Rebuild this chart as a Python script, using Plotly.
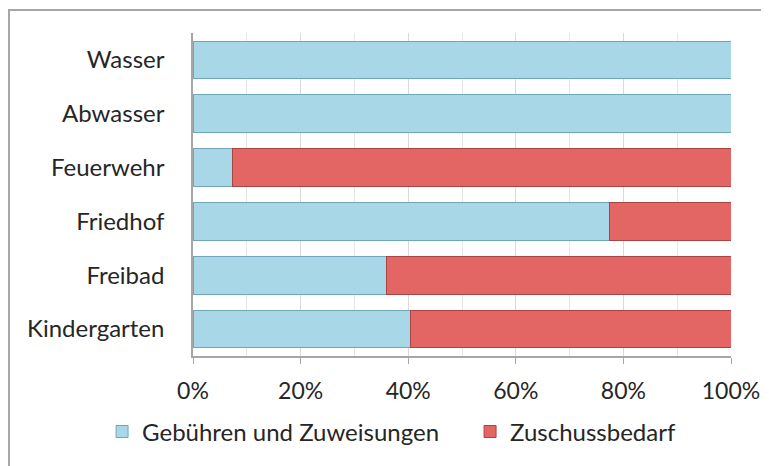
import plotly.graph_objects as go

categories = ["Kindergarten", "Freibad", "Friedhof", "Feuerwehr", "Abwasser", "Wasser"]
gebuehren = [40.4, 36.0, 77.5, 7.4, 100.0, 100.0]
zuschuss = [59.6, 64.0, 22.5, 92.6, 0.0, 0.0]
tick_vals = [0, 20, 40, 60, 80, 100]
tick_text = ["0%", "20%", "40%", "60%", "80%", "100%"]

font_family = "Lato, sans-serif"
text_color = "#262626"

fig = go.Figure()
fig.add_trace(go.Bar(
    y=categories, x=gebuehren, orientation="h", name="Gebühren und Zuweisungen",
    marker=dict(color="#a8d8e8", line=dict(color="#6fa6ba", width=1)),
    legend="legend",
))
fig.add_trace(go.Bar(
    y=categories, x=zuschuss, orientation="h", name="Zuschussbedarf",
    marker=dict(color="#e36664", line=dict(color="#a84444", width=1)),
    legend="legend2",
))

fig.update_layout(
    width=761, height=458,
    barmode="stack", bargap=0.3,
    margin=dict(l=185, r=38, t=25, b=110, autoexpand=False),
    paper_bgcolor="white", plot_bgcolor="white",
    font=dict(family=font_family, size=24, color=text_color),
    xaxis=dict(
        range=[0, 100], tickvals=tick_vals, ticktext=tick_text,
        tickfont=dict(size=23),
        showgrid=True, gridcolor="#d9d9d9", gridwidth=1,
        minor=dict(dtick=10, showgrid=True, gridcolor="#e6e6e6"),
        showline=True, linecolor="#a6a6a6", linewidth=1.5,
        ticks="outside", ticklen=6, tickcolor="#a6a6a6",
        ticklabelstandoff=8,
        zeroline=False, fixedrange=True,
    ),
    yaxis=dict(
        showline=True, linecolor="#a6a6a6", linewidth=1.5,
        ticks="", ticklabelstandoff=22, showgrid=False, fixedrange=True,
    ),
    legend=dict(orientation="h", x=-0.169, y=-0.235, xanchor="left", yanchor="middle",
                font=dict(size=24, color=text_color), itemwidth=30,
                bgcolor="rgba(0,0,0,0)"),
    legend2=dict(orientation="h", x=0.515, y=-0.235, xanchor="left", yanchor="middle",
                 font=dict(size=24, color=text_color), itemwidth=30,
                 bgcolor="rgba(0,0,0,0)"),
    shapes=[dict(type="rect", xref="paper", yref="paper",
                 x0=-0.3420, x1=1.2, y0=-0.6, y1=1.071,
                 line=dict(color="#a6a6a6", width=2), fillcolor="rgba(0,0,0,0)",
                 layer="below")],
    showlegend=True,
)

fig.write_html("out.html")
